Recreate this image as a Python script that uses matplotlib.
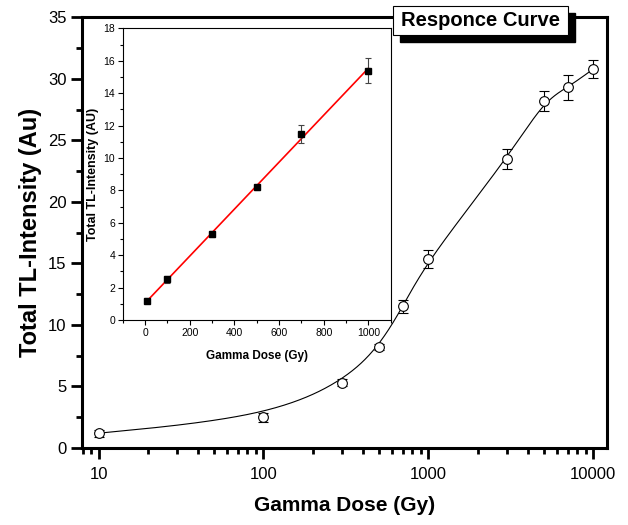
import numpy as np
import matplotlib
matplotlib.use("Agg")
from matplotlib import pyplot as plt
from matplotlib.patches import Rectangle
from matplotlib.ticker import LogLocator, NullFormatter, MultipleLocator

# TL response vs gamma dose
dose = [10, 100, 300, 500, 700, 1000, 3000, 5000, 7000, 10000]
intensity = [1.2, 2.5, 5.3, 8.2, 11.5, 15.35, 23.5, 28.2, 29.3, 30.8]
intensity_err = [0.3, 0.35, 0.3, 0.25, 0.55, 0.75, 0.8, 0.8, 1.0, 0.7]

# linear region (inset)
lin_dose = [10, 100, 300, 500, 700, 1000]
lin_intensity = [1.2, 2.5, 5.3, 8.2, 11.5, 15.4]
lin_err = [0.15, 0.2, 0.2, 0.15, 0.55, 0.75]

main_ticks = [10, 100, 1000, 10000]
main_tick_labels = ["10", "100", "1000", "10000"]

plt.rcParams["font.family"] = ["Liberation Sans", "DejaVu Sans"]


def bspline(px, py, n=60):
    # uniform cubic B-spline with the data as control points, clamped at the ends
    P = np.column_stack([px, py])
    P = np.vstack([P[0], P[0], P, P[-1], P[-1]])
    t = np.linspace(0, 1, n)[:, None]
    b0 = (1 - t) ** 3 / 6
    b1 = (3 * t ** 3 - 6 * t ** 2 + 4) / 6
    b2 = (-3 * t ** 3 + 3 * t ** 2 + 3 * t + 1) / 6
    b3 = t ** 3 / 6
    segs = [b0 * P[i] + b1 * P[i + 1] + b2 * P[i + 2] + b3 * P[i + 3]
            for i in range(len(P) - 3)]
    return np.vstack(segs)


fig = plt.figure(figsize=(6.28, 5.25), dpi=100)
ax = fig.add_axes([0.130, 0.1467, 0.836, 0.8203])

curve = bspline(np.log10(dose), intensity)
ax.plot(10 ** curve[:, 0], curve[:, 1], color="black", lw=0.8, zorder=2)
ax.errorbar(dose, intensity, yerr=intensity_err, fmt="o", ms=7, mfc="white",
            mec="black", mew=0.8, ecolor="black", elinewidth=0.8,
            capsize=3.5, capthick=0.8, zorder=3)

ax.set_xscale("log")
ax.set_xlim(7.9, 12050)
ax.set_ylim(0, 35)
ax.set_xticks(main_ticks, labels=main_tick_labels)
ax.xaxis.set_minor_locator(LogLocator(base=10, subs=np.arange(2, 10)))
ax.xaxis.set_minor_formatter(NullFormatter())
ax.yaxis.set_major_locator(MultipleLocator(5))
ax.yaxis.set_minor_locator(MultipleLocator(2.5))
for s in ax.spines.values():
    s.set_linewidth(2.2)
ax.tick_params(which="major", direction="out", length=8, width=2, labelsize=12)
ax.tick_params(axis="x", which="major", pad=6)
ax.tick_params(axis="y", which="major", pad=3)
ax.tick_params(which="minor", direction="out", length=4.5, width=2)

ax.set_xlabel("Gamma Dose (Gy)", fontsize=15, fontweight="bold", labelpad=10)
ax.set_ylabel("Total TL-Intensity (Au)", fontsize=17, fontweight="bold", labelpad=4)

# inset: linear part of the response
ax2 = fig.add_axes([0.1954, 0.3905, 0.4268, 0.5554])
ax2.errorbar(lin_dose, lin_intensity, yerr=lin_err, fmt="s", ms=4.5, mfc="black",
             mec="black", ecolor="#444444", elinewidth=0.8, capsize=2.5,
             capthick=0.8, zorder=3)
slope, icpt = np.polyfit(lin_dose, lin_intensity, 1)
fx = np.array([lin_dose[0], lin_dose[-1]])
ax2.plot(fx, slope * fx + icpt, color="red", lw=1.2, zorder=2)
ax2.set_xlim(-100, 1100)
ax2.set_ylim(0, 18)
ax2.xaxis.set_major_locator(MultipleLocator(200))
ax2.xaxis.set_minor_locator(MultipleLocator(100))
ax2.yaxis.set_major_locator(MultipleLocator(2))
ax2.yaxis.set_minor_locator(MultipleLocator(1))
for s in ax2.spines.values():
    s.set_linewidth(0.8)
ax2.tick_params(which="major", direction="out", length=3.5, width=0.8, labelsize=7.5, pad=2)
ax2.tick_params(which="minor", direction="out", length=2, width=0.8)
ax2.set_xlabel("Gamma Dose (Gy)", fontsize=8.5, fontweight="bold", labelpad=9)
ax2.set_ylabel("Total TL-Intensity (AU)", fontsize=9, fontweight="bold", labelpad=3)

# title box with drop shadow
fig.patches.append(Rectangle((0.637, 0.920), 0.279, 0.0552, transform=fig.transFigure,
                             facecolor="black", edgecolor="black", zorder=5))
fig.patches.append(Rectangle((0.626, 0.9333), 0.279, 0.0552, transform=fig.transFigure,
                             facecolor="white", edgecolor="black", lw=0.8, zorder=6))
fig.text(0.7655, 0.961, "Responce Curve", ha="center", va="center", fontsize=14.5,
         fontweight="bold", zorder=7)

fig.savefig("out.png", dpi=100)
